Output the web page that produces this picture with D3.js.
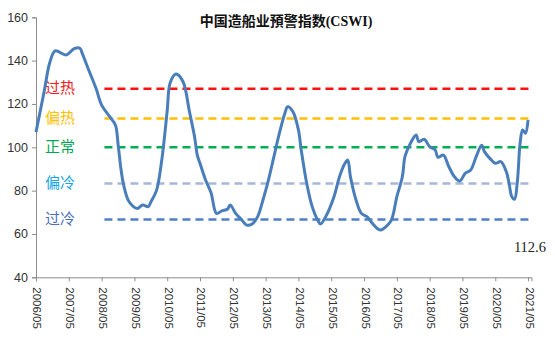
<!DOCTYPE html>
<html>
<head>
<meta charset="utf-8">
<script src="https://cdn.jsdelivr.net/npm/d3@7/dist/d3.min.js"></script>
<style>
  body { margin: 0; background: #fff; }
  svg { display: block; }
  .axis path, .axis line { stroke: #8c8c8c; }
  .axis text { fill: #333; font-family: "Liberation Sans", Arial, sans-serif; }
</style>
</head>
<body>
<div id="viz"></div>
<script>
// CSWI monthly readings
var months = ["2006/05","2006/08","2006/10","2006/12","2007/04","2007/07","2007/09","2007/10","2007/12",
  "2008/03","2008/05","2008/08","2008/10","2008/11","2008/12","2009/01","2009/03","2009/06","2009/08",
  "2009/10","2009/11","2010/01","2010/03","2010/05","2010/06","2010/08","2010/09","2010/11","2011/01",
  "2011/03","2011/04","2011/05","2011/07","2011/09","2011/11","2012/01","2012/03","2012/04","2012/06",
  "2012/08","2012/10","2012/12","2013/02","2013/04","2013/06","2013/08","2013/10","2013/12","2014/01",
  "2014/03","2014/05","2014/06","2014/08","2014/10","2014/12","2015/01","2015/03","2015/06","2015/08",
  "2015/10","2015/11","2015/12","2016/02","2016/04","2016/06","2016/08","2016/10","2016/11","2017/01",
  "2017/03","2017/05","2017/07","2017/08","2017/10","2017/12","2018/01","2018/03","2018/05","2018/07",
  "2018/08","2018/10","2018/12","2019/02","2019/04","2019/06","2019/08","2019/10","2019/12","2020/01",
  "2020/03","2020/05","2020/07","2020/09","2020/10","2020/11","2020/12","2021/01","2021/02","2021/03",
  "2021/04","2021/05"];
var cswi = [107,126,139,144.5,142.6,145.5,145.7,143,136.5,
  127,119.5,114,110.3,101,90.3,82.6,75,71.8,73.4,
  72.6,74.9,80,94,117,129.5,133.8,133.4,129.5,117,
  105,96.4,92.6,85,79,69.5,70.7,71.4,73.4,69.5,
  66.8,64.1,64.6,68,75.7,84.9,95.7,106.5,115.7,118.7,
  116.4,108,98.8,83.4,72.6,66.4,64.6,68,77.2,86.4,
  92.6,94.1,86.4,75.7,69.5,68,64.9,62.3,61.8,63.4,
  66.4,77.2,86.4,96,102,105.7,102.6,103.7,100.3,98.8,
  95.4,96.4,91,86.4,84.4,88,89.5,95.7,101,98,
  94.9,92.6,93.4,88.7,83.4,77.2,76,84,101.8,108,
  106.5,112.6];

// warning bands
var levelNames = ["过热", "偏热", "正常", "偏冷", "过冷"];
var levelValues = [127, 113.3, 100, 83.3, 66.7];
var levelStart = "2008/06";
var yTicks = [40, 60, 80, 100, 120, 140, 160];
var lastLabel = "112.6";

var lineColors = ["#ff1010", "#ffc000", "#00b050", "#a6b8da", "#4f7fc8"];
var textColors = ["#ee1c24", "#ffc000", "#00a651", "#16a5e6", "#4d6fbd"];

var parse = d3.timeParse("%Y/%m");
var data = months.map(function(m, i) { return { date: parse(m), value: cswi[i] }; });

var chart = { width: 555, height: 341 };

var svg = d3.select("#viz").append("svg")
  .attr("width", chart.width)
  .attr("height", chart.height);

var x = d3.scaleTime()
  .domain([parse("2006/05"), new Date(2021, 5, 8)])
  .range([36, 531.5]);

var y = d3.scaleLinear()
  .domain([40, 160])
  .range([277.3, 17.3]);

// axes
svg.append("g")
  .attr("class", "axis")
  .attr("transform", "translate(36,0)")
  .call(d3.axisLeft(y).tickValues(yTicks).tickSize(4).tickPadding(4))
  .selectAll("text").style("font-size", "12.5px");

var xTicks = d3.range(2006, 2022).map(function(yr) { return parse(yr + "/05"); });
var xAxis = svg.append("g")
  .attr("class", "axis")
  .attr("transform", "translate(0," + y(40) + ")")
  .call(d3.axisBottom(x).tickValues(xTicks).tickFormat(d3.timeFormat("%Y/%m")).tickSize(4));

xAxis.selectAll("text")
  .style("font-size", "11.5px")
  .attr("text-anchor", "start")
  .attr("transform", "rotate(90)")
  .attr("x", 10)
  .attr("y", -1)
  .attr("dy", "0.35em");

// threshold dashes and their labels
svg.append("g").selectAll("line")
  .data(levelValues)
  .enter()
  .append("line")
  .attr("x1", x(parse(levelStart)))
  .attr("x2", 533)
  .attr("y1", function(d) { return y(d); })
  .attr("y2", function(d) { return y(d); })
  .attr("stroke", function(d, i) { return lineColors[i]; })
  .attr("stroke-width", 2.5)
  .attr("stroke-dasharray", "8,5");

svg.append("g").selectAll("text")
  .data(levelNames)
  .enter()
  .append("text")
  .attr("x", 45)
  .attr("y", function(d, i) { return y(levelValues[i]) - 1; })
  .attr("dy", "0.35em")
  .attr("fill", function(d, i) { return textColors[i]; })
  .style("font-family", "'Noto Sans CJK SC', sans-serif")
  .style("font-size", "15px")
  .text(function(d) { return d; });

// index line, smoothed
var line = d3.line()
  .x(function(d) { return x(d.date); })
  .y(function(d) { return y(d.value); })
  .curve(d3.curveCatmullRom.alpha(0.5));

svg.append("path")
  .datum(data)
  .attr("fill", "none")
  .attr("stroke", "#4a7ebb")
  .attr("stroke-width", 3)
  .attr("stroke-linejoin", "round")
  .attr("d", line);

// latest value
svg.append("text")
  .attr("x", 546)
  .attr("y", 247)
  .attr("dy", "0.35em")
  .attr("text-anchor", "end")
  .attr("fill", "#222")
  .style("font-family", "'Liberation Serif', 'Times New Roman', serif")
  .style("font-size", "14.5px")
  .text(lastLabel);

// title
var title = svg.append("text")
  .attr("x", 286)
  .attr("y", 21)
  .attr("dy", "0.35em")
  .attr("text-anchor", "middle")
  .attr("fill", "#111")
  .style("font-weight", "bold")
  .style("font-size", "14px");
title.append("tspan")
  .style("font-family", "'Noto Sans CJK SC', sans-serif")
  .text("中国造船业預警指数");
title.append("tspan")
  .style("font-family", "'Liberation Serif', serif")
  .text("(CSWI)");
</script>
</body>
</html>
